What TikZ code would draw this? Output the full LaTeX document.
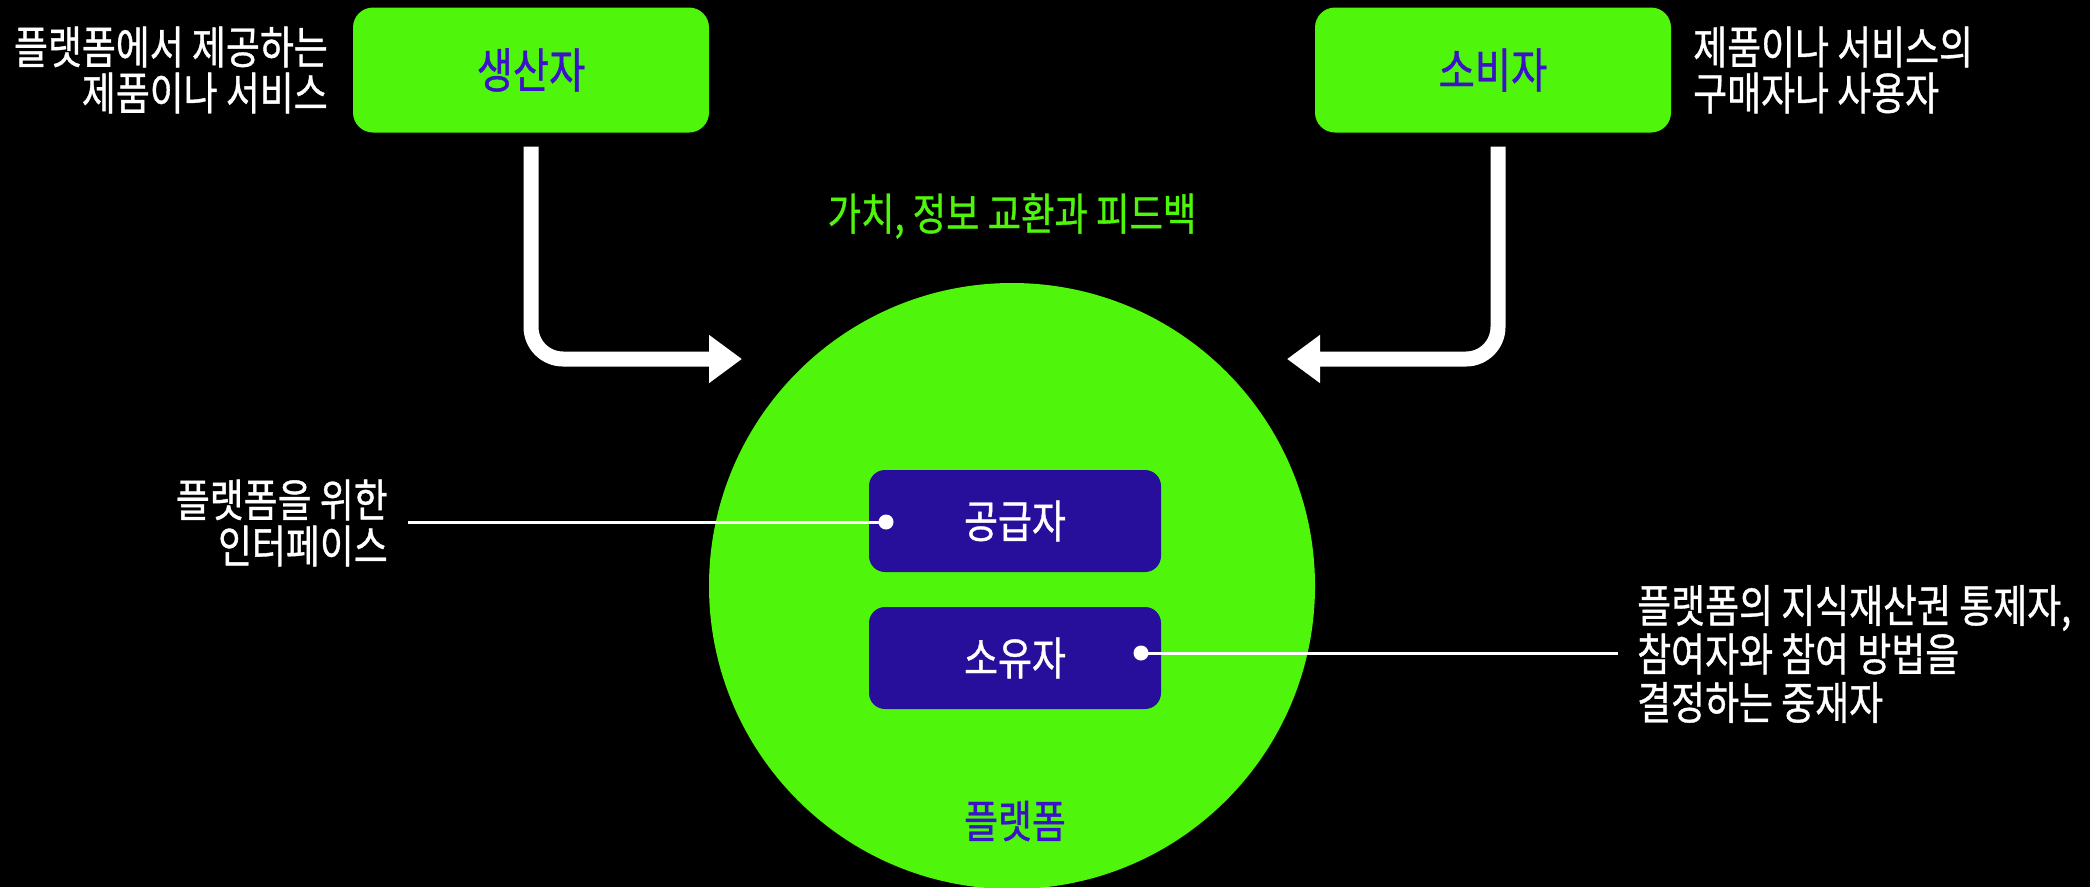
\documentclass[tikz,border=0pt]{standalone}
\usepackage{fontspec}
\setmainfont{Noto Sans CJK KR}[FakeStretch=0.82,FakeBold=0.8]
\usetikzlibrary{arrows.meta}
\definecolor{lime}{RGB}{80,245,12}
\definecolor{indigo}{RGB}{40,15,155}
\definecolor{violet}{RGB}{58,18,200}
\tikzset{
  greenbox/.style={fill=lime, rounded corners=20pt, minimum width=356pt, minimum height=125pt, inner sep=0pt, text=violet, font=\fontsize{48}{50}\selectfont},
  darkbox/.style={fill=indigo, rounded corners=16pt, minimum width=292pt, minimum height=102pt, inner sep=0pt, text=white, font=\fontsize{45}{48}\selectfont},
  note/.style={text=white, inner sep=0pt, font=\fontsize{45}{46}\selectfont},
  flow/.style={draw=white, line width=15pt, rounded corners=32pt, -{Triangle[length=33pt,width=46pt]}},
  pointer/.style={draw=white, line width=3pt},
  dot/.style={circle, fill=white, inner sep=0pt, minimum size=15pt},
}
\begin{document}
\begin{tikzpicture}[x=1pt,y=-1pt]
\fill[black] (0,0) rectangle (2090,887);
\useasboundingbox (0,0) rectangle (2090,887);
% platform circle
\fill[lime] (1012,586) circle (303pt);
\node[text=violet, font=\fontsize{45}{48}\selectfont] (plat) at (1015,821) {플랫폼};
% top boxes
\node[greenbox] (prod) at (531,70) {생산자};
\node[greenbox] (cons) at (1493,70) {소비자};
\node[note, anchor=east, align=right] (prodnote) at (328,70) {플랫폼에서 제공하는\\제품이나 서비스};
\node[note, anchor=west, align=left] (consnote) at (1693,70) {제품이나 서비스의\\구매자나 사용자};
% exchange label
\node[text=lime, font=\fontsize{44.3}{46}\selectfont] (xlabel) at (1012,216) {가치, 정보 교환과 피드백};
% arrows
\coordinate (ptip) at (742,359);
\coordinate (ctip) at (1287,359);
\draw[flow] ([yshift=-14pt]prod.south) |- (ptip);
\draw[flow] ([yshift=-14pt, xshift=5pt]cons.south) |- (ctip);
% inner boxes
\node[darkbox] (supp) at (1015,521) {공급자};
\node[darkbox] (own) at (1015,658) {소유자};
\node[dot] (d1) at (886,522) {};
\node[dot] (d2) at (1141,653) {};
\node[note, anchor=east, align=right] (ifnote) at (388,523) {플랫폼을 위한\\인터페이스};
\node[note, anchor=west, align=left, font=\fontsize{45}{48.5}\selectfont] (ownnote) at (1637,654) {플랫폼의 지식재산권 통제자,\\참여자와 참여 방법을\\결정하는 중재자};
\coordinate (l1) at (408,522);
\coordinate (l2) at (1618,653);
\draw[pointer] (l1) -- (d1.center);
\draw[pointer] (d2.center) -- (l2);
\end{tikzpicture}
\end{document}
